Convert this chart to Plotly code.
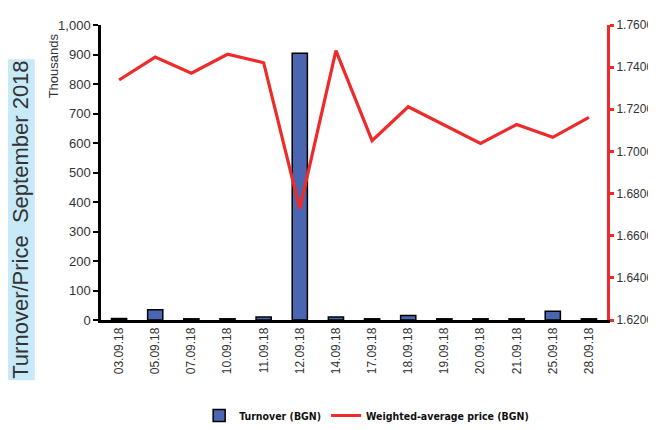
import plotly.graph_objects as go

dates = ["03.09.18", "05.09.18", "07.09.18", "10.09.18", "11.09.18", "12.09.18", "14.09.18",
         "17.09.18", "18.09.18", "19.09.18", "20.09.18", "21.09.18", "25.09.18", "28.09.18"]
turnover_thousands = [5, 35, 4, 4, 10, 904, 10, 4, 15, 4, 4, 4, 30, 4]
price = [1.7339, 1.7448, 1.7371, 1.7461, 1.7421, 1.6727, 1.7478, 1.7051, 1.7212, 1.7125,
         1.7038, 1.7128, 1.7067, 1.7162]

font_reg = "Liberation Sans, Arial, sans-serif"
font_cond = "DejaVu Sans Condensed, Liberation Sans Narrow, Liberation Sans, sans-serif"

fig = go.Figure()
fig.add_trace(go.Bar(
    x=dates, y=turnover_thousands, name="Turnover (BGN)",
    marker=dict(color="#4a66b0", line=dict(color="black", width=1.5)),
    yaxis="y",
))
fig.add_trace(go.Scatter(
    x=dates, y=price, name="Weighted-average price (BGN)", mode="lines",
    line=dict(color="#ee2a2a", width=3.2), yaxis="y2",
))

fig.update_layout(
    width=648, height=422,
    margin=dict(l=93, r=49, t=17, b=110, autoexpand=False),
    paper_bgcolor="white", plot_bgcolor="white",
    bargap=0.58,
    showlegend=True,
    legend=dict(orientation="h", x=0.525, xanchor="center", y=-0.005, yanchor="bottom",
                yref="container",
                font=dict(family=font_cond, size=10.5, color="#111", weight="bold"),
                traceorder="normal"),
    xaxis=dict(
        type="category", tickangle=-90, showline=True, linecolor="black", linewidth=2.5,
        ticks="", tickfont=dict(family=font_reg, size=12, color="#333"),
        showgrid=False, zeroline=False, automargin=False,
    ),
    yaxis=dict(
        range=[0, 1000], dtick=100, tickformat=",d", showline=True, linecolor="black",
        linewidth=2.5, ticks="outside", ticklen=5, tickwidth=2, tickcolor="black",
        tickfont=dict(family=font_reg, size=13, color="#333"), showgrid=False,
        zeroline=False, automargin=False,
    ),
    yaxis2=dict(
        range=[1.62, 1.76], dtick=0.02, tickformat=".4f", overlaying="y", side="right",
        showline=True, linecolor="#ee2a2a", linewidth=3, ticks="outside", ticklen=4,
        tickwidth=3, tickcolor="#ee2a2a",
        tickfont=dict(family=font_reg, size=12, color="#333"), showgrid=False,
        zeroline=False, automargin=False,
    ),
    annotations=[
        dict(text="Turnover/Price  September 2018", textangle=-90, xref="paper", yref="paper",
             x=-0.158, y=0.34, xanchor="center", yanchor="middle", showarrow=False,
             font=dict(family=font_reg, size=22, color="#333"),
             bgcolor="#c8eaf8", borderpad=1),
        dict(text="Thousands", textangle=-90, xref="paper", yref="paper",
             x=-0.095, y=0.98, xanchor="center", yanchor="top", showarrow=False,
             font=dict(family=font_reg, size=13, color="#333")),
    ],
)

fig.write_html("out.html")
